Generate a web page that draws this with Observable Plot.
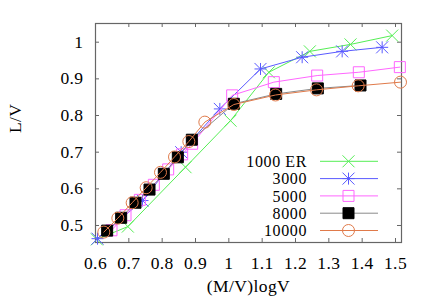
<!DOCTYPE html>
<html>
<head>
<meta charset="utf-8">
<script src="https://cdn.jsdelivr.net/npm/d3@7"></script>
<script src="https://cdn.jsdelivr.net/npm/@observablehq/plot@0.6"></script>
<style>
  html, body { margin: 0; padding: 0; background: white; }
  #chart svg, #chart svg text { font-family: "Liberation Serif", "Times New Roman", serif !important; font-size: 17.5px; letter-spacing: 0.4px; }
  #chart svg text.legend-label { font-size: 16px; letter-spacing: 0.6px; }
</style>
</head>
<body>
<div id="chart"></div>
<script>
// ---- data ----
const seriesNames = ["1000 ER", "3000", "5000", "8000", "10000"];

const er1000X = [0.604, 0.697, 0.87, 1.005, 1.12, 1.243, 1.365, 1.49];
const er1000Y = [0.462, 0.497, 0.659, 0.786, 0.918, 0.975, 0.994, 1.018];

const n3000X = [0.606, 0.741, 0.857, 0.973, 1.095, 1.22, 1.34, 1.46];
const n3000Y = [0.464, 0.568, 0.70, 0.818, 0.927, 0.959, 0.975, 0.986];

const n5000X = [0.648, 0.69, 0.733, 0.775, 0.818, 0.86, 0.89, 1.01, 1.135, 1.265, 1.39, 1.513];
const n5000Y = [0.487, 0.528, 0.570, 0.611, 0.653, 0.694, 0.723, 0.855, 0.891, 0.909, 0.918, 0.932];

const n8000X = [0.635, 0.677, 0.72, 0.762, 0.805, 0.847, 0.889, 1.015, 1.142, 1.267, 1.395];
const n8000Y = [0.486, 0.521, 0.562, 0.598, 0.641, 0.686, 0.734, 0.832, 0.859, 0.874, 0.882];

const n10000X = [0.625, 0.667, 0.71, 0.752, 0.795, 0.837, 0.88, 0.928, 1.015, 1.14, 1.263, 1.388, 1.515];
const n10000Y = [0.482, 0.520, 0.562, 0.603, 0.645, 0.687, 0.729, 0.782, 0.830, 0.856, 0.870, 0.881, 0.891];

const xTicks = [0.6, 0.7, 0.8, 0.9, 1, 1.1, 1.2, 1.3, 1.4, 1.5];
const yTicks = [0.5, 0.6, 0.7, 0.8, 0.9, 1];

// ---- symbols (size = r^2 * PI) ----
const rad = size => Math.sqrt(size / Math.PI);
const timesSym = {draw(c, size) { const r = rad(size); c.moveTo(-r, -r); c.lineTo(r, r); c.moveTo(-r, r); c.lineTo(r, -r); }};
const asteriskSym = {draw(c, size) { const r = rad(size); c.moveTo(-r, -r); c.lineTo(r, r); c.moveTo(-r, r); c.lineTo(r, -r); c.moveTo(-r, 0); c.lineTo(r, 0); c.moveTo(0, -r); c.lineTo(0, r); }};
const squareSym = {draw(c, size) { const r = rad(size); c.rect(-r, -r, 2 * r, 2 * r); }};
const circleSym = {draw(c, size) { const r = rad(size); c.moveTo(r, 0); c.arc(0, 0, r, 0, 2 * Math.PI); }};

const zip = (xs, ys) => xs.map((x, i) => ({x, y: ys[i]}));
const series = [
  {name: seriesNames[0], data: zip(er1000X, er1000Y), line: "#55ee55", stroke: "#55ee55", fill: "none", symbol: timesSym, r: 6},
  {name: seriesNames[1], data: zip(n3000X, n3000Y), line: "#5a5aff", stroke: "#5a5aff", fill: "none", symbol: asteriskSym, r: 6},
  {name: seriesNames[2], data: zip(n5000X, n5000Y), line: "#ff66ff", stroke: "#ff66ff", fill: "none", symbol: squareSym, r: 5.5},
  {name: seriesNames[3], data: zip(n8000X, n8000Y), line: "#8a8a8a", stroke: "#000", fill: "#000", symbol: squareSym, r: 5.5},
  {name: seriesNames[4], data: zip(n10000X, n10000Y), line: "#e07a4a", stroke: "#e07a4a", fill: "none", symbol: circleSym, r: 6}
];

const W = 436, H = 305, mL = 95, mR = 35, mT = 23, mB = 63;
const fw = W - mL - mR, fh = H - mT - mB;
const tickColor = "#666";

const marks = [
  Plot.frame({stroke: tickColor, strokeWidth: 1.2}),
  Plot.tickX(xTicks, {x: d => d, insetTop: fh - 4, stroke: tickColor}),
  Plot.tickX(xTicks, {x: d => d, insetBottom: fh - 4, stroke: tickColor}),
  Plot.tickY(yTicks, {y: d => d, insetRight: fw - 4, stroke: tickColor}),
  Plot.tickY(yTicks, {y: d => d, insetLeft: fw - 4, stroke: tickColor}),
  Plot.axisX({ticks: xTicks, tickSize: 0, tickPadding: 14, tickFormat: d => String(d), label: null}),
  Plot.axisY({ticks: yTicks, tickSize: 0, tickPadding: 12, tickFormat: d => String(d), label: null}),
  Plot.text(["(M/V)logV"], {frameAnchor: "bottom", dy: 44, lineAnchor: "middle", text: d => d, fill: "black"}),
  Plot.text(["L/V"], {frameAnchor: "left", dx: -80, rotate: -90, lineAnchor: "middle", text: d => d, fill: "black"})
];

for (const s of series) {
  marks.push(Plot.line(s.data, {x: "x", y: "y", stroke: s.line, strokeWidth: 1}));
  marks.push(Plot.dot(s.data, {x: "x", y: "y", symbol: s.symbol, r: s.r, stroke: s.stroke, fill: s.fill, strokeWidth: 1}));
}

// legend inside the frame (bottom-right)
marks.push((index, scales, values, dims) => {
  const right = dims.width - dims.marginRight;
  const bottom = dims.height - dims.marginBottom;
  const g = d3.create("svg:g");
  series.forEach((s, i) => {
    const y = bottom - 11.5 - (series.length - 1 - i) * 17.3;
    g.append("text").attr("class", "legend-label").attr("x", right - 94).attr("y", y).attr("text-anchor", "end")
      .attr("dy", "0.35em").attr("fill", "black").text(s.name);
    g.append("line").attr("x1", right - 81).attr("x2", right - 23).attr("y1", y).attr("y2", y)
      .attr("stroke", s.line).attr("stroke-width", 1);
    const p = d3.path();
    s.symbol.draw(p, s.r * s.r * Math.PI);
    g.append("path").attr("d", p.toString()).attr("transform", `translate(${right - 52.5},${y})`)
      .attr("stroke", s.stroke).attr("fill", s.fill);
  });
  return g.node();
});

const chart = Plot.plot({
  width: W, height: H,
  marginLeft: mL, marginRight: mR, marginTop: mT, marginBottom: mB,
  style: {fontFamily: "'Liberation Serif', serif", fontSize: "17.5px", background: "white", color: "black"},
  x: {domain: [0.6, 1.518]},
  y: {domain: [0.4536, 1.051]},
  marks
});
document.getElementById("chart").appendChild(chart);
</script>
</body>
</html>
